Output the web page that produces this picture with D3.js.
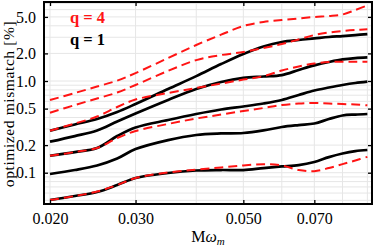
<!DOCTYPE html>
<meta charset="utf-8">
<head>
    <title>optimized mismatch vs Mw</title>
</head>
<style>
  body { margin: 0; background: #fff; }
</style>
<script src="https://d3js.org/d3.v7.min.js"></script>

<div id="my_dataviz"></div>

<script>

// frequency samples
var mw = [0.020, 0.0225, 0.025, 0.0275, 0.030, 0.035, 0.040, 0.045, 0.050,
          0.055, 0.060, 0.065, 0.070, 0.075, 0.080, 0.085, 0.090];

// q = 1 (black solid)
var q1_a = [0.287, 0.336, 0.385, 0.459, 0.561, 0.818, 1.13, 1.53, 1.97, 2.38, 2.66, 2.80, 2.91, 3.02, 3.09, 3.17, 3.25];
var q1_b = [0.218, 0.251, 0.289, 0.362, 0.442, 0.621, 0.818, 0.975, 1.08, 1.12, 1.16, 1.32, 1.48, 1.61, 1.72, 1.78, 1.81];
var q1_c = [0.153, 0.168, 0.186, 0.251, 0.311, 0.376, 0.437, 0.489, 0.527, 0.568, 0.621, 0.704, 0.788, 0.849, 0.905, 0.951, 0.983];
var q1_d = [0.0968, 0.107, 0.120, 0.143, 0.181, 0.227, 0.258, 0.268, 0.271, 0.289, 0.315, 0.331, 0.344, 0.385, 0.421, 0.431, 0.437];
var q1_e = [0.0504, 0.0557, 0.0616, 0.0734, 0.0875, 0.0993, 0.1057, 0.107, 0.107, 0.1125, 0.117, 0.121, 0.131, 0.148, 0.162, 0.172, 0.177];

// q = 4 (red dashed)
var q4_a = [0.62, 0.74, 0.87, 1.01, 1.22, 1.78, 2.47, 3.2, 3.98, 4.40, 4.62, 4.80, 4.99, 5.11, 5.31, 5.95, 6.66];
var q4_b = [0.451, 0.547, 0.644, 0.749, 0.905, 1.29, 1.69, 1.92, 2.07, 2.29, 2.53, 2.84, 3.17, 3.38, 3.51, 3.60, 3.66];
var q4_c = [0.287, 0.344, 0.410, 0.521, 0.628, 0.740, 0.839, 0.937, 1.036, 1.13, 1.30, 1.44, 1.55, 1.61, 1.62, 1.62, 1.62];
var q4_d = [0.153, 0.168, 0.186, 0.239, 0.285, 0.340, 0.390, 0.431, 0.471, 0.508, 0.547, 0.568, 0.575, 0.568, 0.561, 0.554, 0.543];
var q4_e = [0.0504, 0.0557, 0.0624, 0.0734, 0.0875, 0.1005, 0.108, 0.114, 0.120, 0.124, 0.120, 0.107, 0.104, 0.1125, 0.124, 0.136, 0.149];

var xTicks = [0.020, 0.030, 0.050, 0.070];
var yTicks = [0.1, 0.2, 0.5, 1.0, 2.0, 5.0];

var width = 374,
    height = 246;

var svg = d3.select("#my_dataviz")
  .append("svg")
    .attr("width", width)
    .attr("height", height);

// log scales on both axes
var x = d3.scaleLog()
    .domain([0.01944, 0.0920])
    .range([44, 372]);

var y = d3.scaleLog()
    .domain([0.0456, 7.27])
    .range([204, 2]);

// grid: every minor value
var xGrid = d3.range(2, 10).map(function(i) { return i / 100; });
var yGrid = [];
[0.01, 0.1, 1].forEach(function(dec) {
  for (var k = 1; k <= 9; k++) yGrid.push(k * dec);
});
yGrid = yGrid.filter(function(v) { return v > 0.0456 && v < 7.27; });

svg.append("g").selectAll("line")
  .data(xGrid).enter().append("line")
    .attr("x1", function(d) { return x(d); })
    .attr("x2", function(d) { return x(d); })
    .attr("y1", 2).attr("y2", 204)
    .attr("stroke", "#e6e6e6").attr("stroke-width", 1);

svg.append("g").selectAll("line")
  .data(yGrid).enter().append("line")
    .attr("y1", function(d) { return y(d); })
    .attr("y2", function(d) { return y(d); })
    .attr("x1", 44).attr("x2", 372)
    .attr("stroke", "#e6e6e6").attr("stroke-width", 1);

var line = d3.line()
    .x(function(d, i) { return x(mw[i]); })
    .y(function(d) { return y(d); })
    .curve(d3.curveCatmullRom.alpha(0.5));

// q = 1 curves
[q1_a, q1_b, q1_c, q1_d, q1_e].forEach(function(s) {
  svg.append("path")
    .attr("d", line(s))
    .attr("stroke", "black")
    .attr("stroke-width", 2.7)
    .attr("fill", "none");
});

// q = 4 curves
[q4_a, q4_b, q4_c, q4_d, q4_e].forEach(function(s) {
  svg.append("path")
    .attr("d", line(s))
    .attr("stroke", "#ff1414")
    .attr("stroke-width", 2)
    .attr("stroke-dasharray", "9,5")
    .attr("fill", "none");
});

// axes, ticks inward
var font = "'Liberation Serif', 'Times New Roman', serif";

svg.append("g")
    .attr("transform", "translate(0,204)")
    .call(d3.axisBottom(x).tickValues(xTicks).tickSizeInner(-4).tickSizeOuter(0)
      .tickPadding(9).tickFormat(d3.format(".3f")));

svg.append("g")
    .attr("transform", "translate(0,2)")
    .call(d3.axisTop(x).tickValues(xTicks).tickSizeInner(-4).tickSizeOuter(0)
      .tickFormat(""));

svg.append("g")
    .attr("transform", "translate(44,0)")
    .call(d3.axisLeft(y).tickValues(yTicks).tickSizeInner(-4).tickSizeOuter(0)
      .tickPadding(8).tickFormat(d3.format(".1f")));

svg.append("g")
    .attr("transform", "translate(372,0)")
    .call(d3.axisRight(y).tickValues(yTicks).tickSizeInner(-4).tickSizeOuter(0)
      .tickFormat(""));

svg.selectAll(".tick line").attr("stroke", "black").attr("stroke-width", 1.3);
svg.selectAll(".domain").remove();
svg.selectAll(".tick text")
    .attr("fill", "black")
    .style("font-family", font)
    .style("font-size", "16px");

// frame
svg.append("rect")
    .attr("x", 44).attr("y", 2)
    .attr("width", 328).attr("height", 202)
    .attr("fill", "none")
    .attr("stroke", "black")
    .attr("stroke-width", 2);

// legend
svg.append("text")
    .attr("x", 70).attr("y", 23)
    .style("font-family", font).style("font-size", "16.5px").style("font-weight", "bold")
    .attr("fill", "#ff1414")
    .text("q = 4");
svg.append("text")
    .attr("x", 70).attr("y", 45)
    .style("font-family", font).style("font-size", "16.5px").style("font-weight", "bold")
    .attr("fill", "black")
    .text("q = 1");

// axis titles
var xt = svg.append("text")
    .attr("x", 208).attr("y", 242)
    .attr("text-anchor", "middle")
    .style("font-family", font).style("font-size", "16px");
xt.append("tspan").text("M");
xt.append("tspan").style("font-style", "italic").text("ω");
xt.append("tspan").style("font-style", "italic").style("font-size", "11px")
    .attr("dy", 3).text("m");

svg.append("text")
    .attr("transform", "translate(14,104) rotate(-90)")
    .attr("text-anchor", "middle")
    .style("font-family", font).style("font-size", "15.5px")
    .style("letter-spacing", "0.6px")
    .text("optimized mismatch [%]");

</script>
